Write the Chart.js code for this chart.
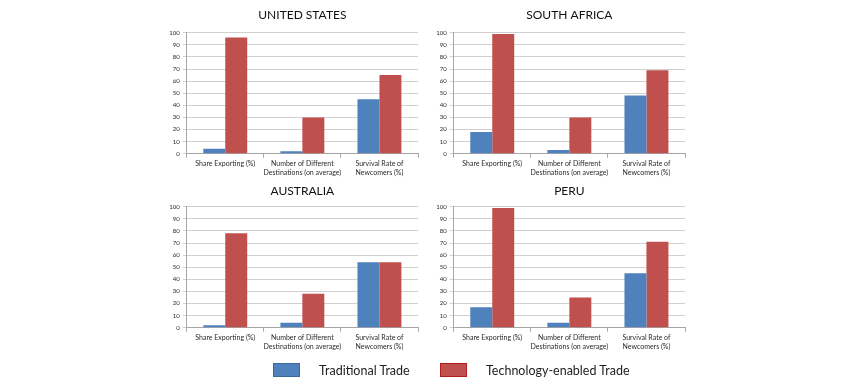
<!DOCTYPE html>
<html>
<head>
<meta charset="utf-8">
<script src="https://cdn.jsdelivr.net/npm/chart.js@4"></script>
<style>
  body { margin: 0; background: #fff; }
  #wrap { position: relative; width: 850px; height: 389px; overflow: hidden; }
  .box { position: absolute; width: 275px; height: 185px; }
  .legend { position: absolute; top: 363px; font: 12.5px Lato, sans-serif; color: #222; }
  .swatch { position: absolute; width: 25px; height: 12px; }
</style>
</head>
<body>
<div id="wrap">
  <div class="box" style="left:150px;top:0px"><canvas id="usChart"></canvas></div>
  <div class="box" style="left:416.6px;top:0px"><canvas id="saChart"></canvas></div>
  <div class="box" style="left:150px;top:174.3px"><canvas id="auChart"></canvas></div>
  <div class="box" style="left:416.6px;top:174.3px"><canvas id="peChart"></canvas></div>

  <div class="swatch" style="left:273px;top:363px;background:#4F81BD;border:1px solid #3A679E"></div>
  <div class="legend" style="left:319px">Traditional Trade</div>
  <div class="swatch" style="left:440px;top:363px;background:#C0504D;border:1px solid #B01E1E"></div>
  <div class="legend" style="left:486px">Technology-enabled Trade</div>
</div>
<script>
// data
const categories = [
  ["Share Exporting (%)"],
  ["Number of Different", "Destinations (on average)"],
  ["Survival Rate of", "Newcomers (%)"],
];
const seriesNames = ["Traditional Trade", "Technology-enabled Trade"];

const usTraditional = [4, 2, 45];
const usTech = [96, 30, 65];
const saTraditional = [18, 3, 48];
const saTech = [99, 30, 69];
const auTraditional = [2, 4, 54];
const auTech = [78, 28, 54];
const peTraditional = [17, 4, 45];
const peTech = [99, 25, 71];

const yMin = 0;
const yMax = 100;
const yStep = 10;

const blue = "#4F81BD";
const red = "#C0504D";

// draws the country name centred over the plot area
const titlePlugin = {
  id: "panelTitle",
  afterDraw(chart, args, opts) {
    const { ctx, chartArea } = chart;
    ctx.save();
    ctx.font = "12px Lato";
    ctx.fillStyle = "#111";
    ctx.textAlign = "center";
    ctx.textBaseline = "middle";
    ctx.fillText(opts.text, (chartArea.left + chartArea.right) / 2, opts.y);
    ctx.restore();
  },
};

function makePanel(id, title, titleY, traditional, tech) {
  const ctx = document.getElementById(id).getContext("2d");
  return new Chart(ctx, {
    type: "bar",
    data: {
      labels: categories,
      datasets: [
        {
          label: seriesNames[0],
          data: traditional,
          backgroundColor: blue,
          borderWidth: 0,
        },
        {
          label: seriesNames[1],
          data: tech,
          backgroundColor: red,
          borderWidth: 0,
        },
      ],
    },
    options: {
      responsive: true,
      maintainAspectRatio: false,
      animation: false,
      layout: {
        padding: { left: 0, right: 7, top: 32.7, bottom: 3.3 },
      },
      datasets: {
        bar: { categoryPercentage: 0.57, barPercentage: 1 },
      },
      plugins: {
        legend: { display: false },
        tooltip: { enabled: false },
        panelTitle: { text: title, y: titleY },
      },
      scales: {
        x: {
          afterFit(scale) {
            scale.height = 28;
          },
          grid: {
            drawOnChartArea: false,
            drawTicks: true,
            tickLength: 4,
            color: "#A6A6A6",
          },
          border: { color: "#A6A6A6" },
          ticks: {
            maxRotation: 0,
            autoSkip: false,
            padding: 2,
            font: { family: "Lato", size: 7 },
            color: "#2a2a2a",
          },
        },
        y: {
          min: yMin,
          max: yMax,
          afterFit(scale) {
            scale.width = 36.7;
          },
          grid: {
            color: "#D0D0D0",
            tickLength: 4,
          },
          border: { color: "#A6A6A6" },
          ticks: {
            stepSize: yStep,
            padding: 3,
            font: { family: "Lato", size: 6 },
            color: "#2a2a2a",
          },
        },
      },
    },
    plugins: [titlePlugin],
  });
}

makePanel("usChart", "UNITED STATES", 15, usTraditional, usTech);
makePanel("saChart", "SOUTH AFRICA", 15, saTraditional, saTech);
makePanel("auChart", "AUSTRALIA", 17.4, auTraditional, auTech);
makePanel("peChart", "PERU", 17.4, peTraditional, peTech);
</script>
</body>
</html>
